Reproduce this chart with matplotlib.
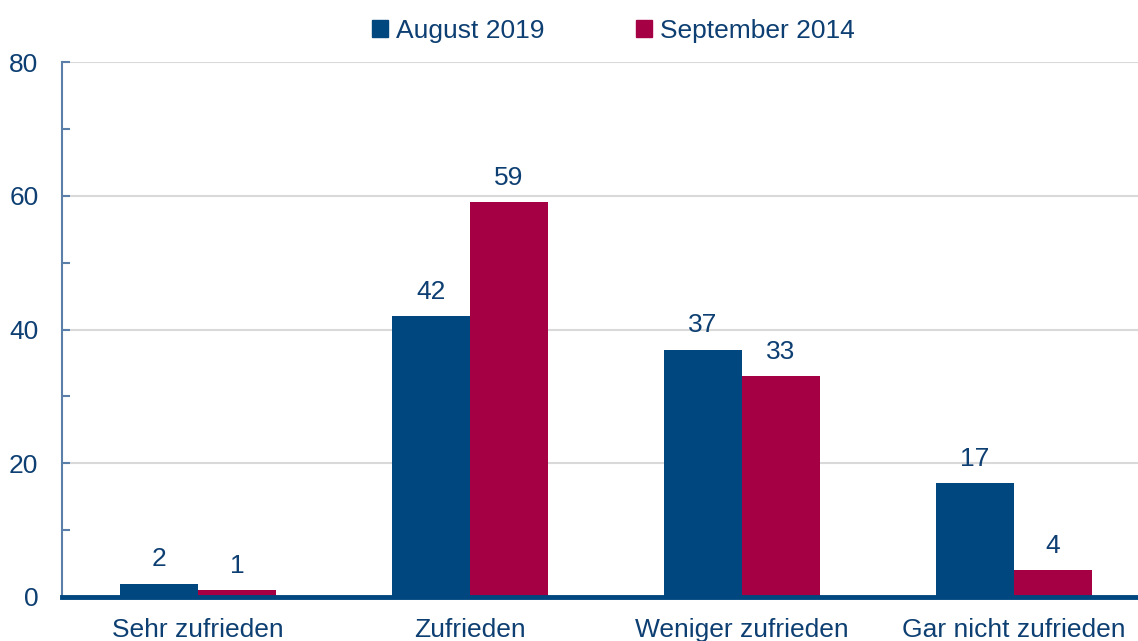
import numpy as np
import matplotlib.pyplot as plt
from matplotlib.patches import Patch
from matplotlib.ticker import MultipleLocator

plt.rcParams['font.family'] = ['Liberation Sans', 'DejaVu Sans']

categories = ["Sehr zufrieden", "Zufrieden", "Weniger zufrieden", "Gar nicht zufrieden"]
aug_2019 = [2, 42, 37, 17]
sep_2014 = [1, 59, 33, 4]
series_names = ["August 2019", "September 2014"]

blue = "#00467f"
red = "#a50044"
text_col = "#0d3f72"
fs = 19

fig = plt.figure(figsize=(11.38, 6.41), dpi=100)
ax = fig.add_axes([62 / 1138, 44 / 641, 1088 / 1138, 535 / 641])

x = np.arange(len(categories))
w = 0.287
b1 = ax.bar(x - w / 2, aug_2019, w, color=blue, zorder=3)
b2 = ax.bar(x + w / 2, sep_2014, w, color=red, zorder=3)

for bars, vals in [(b1, aug_2019), (b2, sep_2014)]:
    for rect, v in zip(bars, vals):
        ax.annotate(str(v), (rect.get_x() + rect.get_width() / 2, v),
                    xytext=(0, 9), textcoords="offset points",
                    ha="center", va="bottom", fontsize=fs, color=text_col)

ax.set_xlim(-0.5, 3.5)
ax.set_ylim(0, 80)
ax.yaxis.set_major_locator(MultipleLocator(20))
ax.yaxis.set_minor_locator(MultipleLocator(10))
ax.grid(axis="y", which="major", color="#d9d9d9", linewidth=1.5, zorder=0)

ax.set_xticks(x)
ax.set_xticklabels(categories)
ax.tick_params(axis="x", length=0, pad=15, labelsize=fs, labelcolor=text_col)
ax.tick_params(axis="y", which="both", direction="in", length=6, width=1.5,
               color="#5b7fa8", pad=17, labelsize=fs, labelcolor=text_col)

for s in ["top", "right"]:
    ax.spines[s].set_visible(False)
ax.spines["left"].set_color("#5b7fa8")
ax.spines["left"].set_linewidth(1.5)
ax.spines["bottom"].set_color(blue)
ax.spines["bottom"].set_linewidth(3.5)
ax.spines["bottom"].set_zorder(4)

handles = [Patch(color=blue), Patch(color=red)]
fig.legend(handles, series_names, loc="upper center", bbox_to_anchor=(0.539, 1.008),
           ncol=2, frameon=False, fontsize=fs, labelcolor=text_col,
           handlelength=0.6, handleheight=0.6, handletextpad=0.3, columnspacing=3.5)

fig.savefig("out.png", dpi=100)
